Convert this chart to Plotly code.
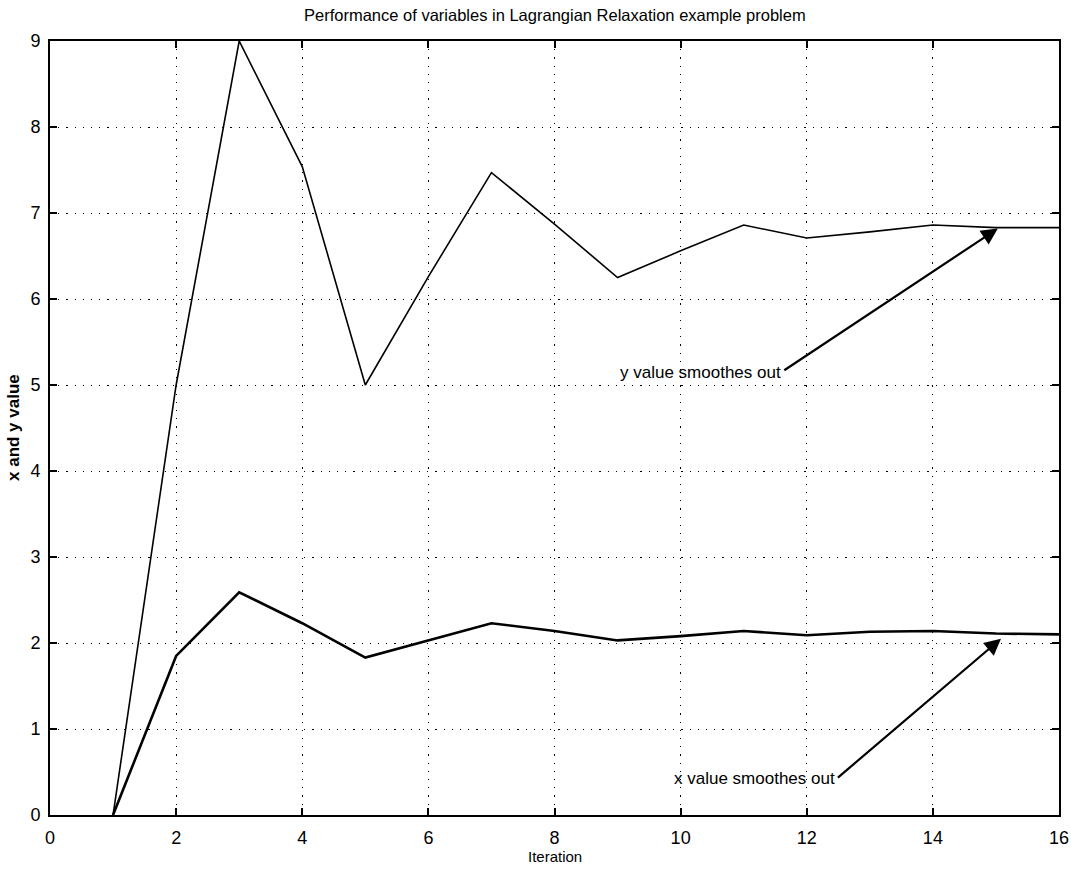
import plotly.graph_objects as go

# Iteration numbers and the values of the two variables at each iteration
iterations = list(range(1, 17))
x_values = [0.0, 1.85, 2.59, 2.23, 1.83, 2.03, 2.23, 2.14, 2.03, 2.08, 2.14, 2.09, 2.13, 2.14, 2.11, 2.10]
y_values = [0.0, 5.0, 9.0, 7.54, 5.0, 6.26, 7.47, 6.87, 6.25, 6.56, 6.86, 6.71, 6.78, 6.86, 6.83, 6.83]

x_ticks = list(range(0, 17, 2))
y_ticks = list(range(0, 10))

FONT = "Liberation Sans, Arial, sans-serif"

fig = go.Figure()
fig.add_trace(go.Scatter(x=iterations, y=y_values, mode="lines",
                         line=dict(color="black", width=1.6), showlegend=False))
fig.add_trace(go.Scatter(x=iterations, y=x_values, mode="lines",
                         line=dict(color="black", width=2.6), showlegend=False))

axis_common = dict(
    showline=True, linecolor="black", linewidth=2, mirror="ticks",
    ticks="inside", ticklen=7, tickwidth=2, tickcolor="black",
    showgrid=True, gridcolor="black", gridwidth=1.2, griddash="1.2px,7px",
    zeroline=False, automargin=False,
    tickfont=dict(family=FONT, size=18, color="black"),
)

fig.update_xaxes(range=[0, 16], tickvals=x_ticks, ticktext=[str(t) for t in x_ticks],
                 ticklabelstandoff=5, **axis_common)
fig.update_yaxes(range=[0, 9], tickvals=y_ticks, ticktext=[str(t) for t in y_ticks],
                 ticklabelstandoff=4, **axis_common)

annotations = [
    # title and axis labels
    dict(text="Performance of variables in Lagrangian Relaxation example problem",
         xref="paper", yref="paper", x=0.5, y=1, yshift=26, showarrow=False,
         xanchor="center", yanchor="middle", font=dict(family=FONT, size=16.5, color="black")),
    dict(text="Iteration", xref="paper", yref="paper", x=0.5, y=0, yshift=-41,
         showarrow=False, xanchor="center", yanchor="middle",
         font=dict(family=FONT, size=15, color="black")),
    dict(text="x and y value", xref="paper", yref="paper", x=0, y=0.5, xshift=-37,
         textangle=-90, showarrow=False, xanchor="center", yanchor="middle",
         font=dict(family=FONT, size=17, color="black", weight="bold")),
    # callout labels
    dict(text="y value smoothes out", x=9.0, y=5.15, xref="x", yref="y",
         showarrow=False, xanchor="left", yanchor="middle",
         font=dict(family=FONT, size=17, color="black")),
    dict(text="x value smoothes out", x=9.87, y=0.42, xref="x", yref="y",
         showarrow=False, xanchor="left", yanchor="middle",
         font=dict(family=FONT, size=17, color="black")),
    # arrows from the labels to the curves
    dict(text="", x=15.03, y=6.82, ax=11.62, ay=5.16, xref="x", yref="y",
         axref="x", ayref="y", showarrow=True, arrowhead=2, arrowsize=1.5,
         arrowwidth=2.2, arrowcolor="black", standoff=0),
    dict(text="", x=15.08, y=2.05, ax=12.47, ay=0.42, xref="x", yref="y",
         axref="x", ayref="y", showarrow=True, arrowhead=2, arrowsize=1.5,
         arrowwidth=2.2, arrowcolor="black", standoff=0),
]

fig.update_layout(
    width=1071, height=875,
    margin=dict(l=50, r=12, t=41, b=60),
    paper_bgcolor="white", plot_bgcolor="white",
    annotations=annotations,
)

fig.write_html("out.html")
